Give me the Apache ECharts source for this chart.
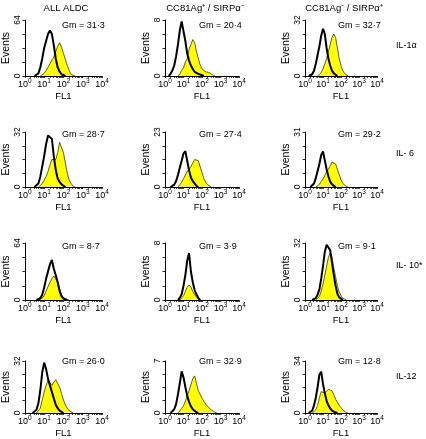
<!DOCTYPE html>
<html><head><meta charset="utf-8">
<script src="https://cdn.jsdelivr.net/npm/echarts@6/dist/echarts.min.js"></script>
<style>html,body{margin:0;padding:0;background:#fff}#c{width:426px;height:439px}</style>
</head><body><div id="c"></div>
<script>
// ---- data ----
const columnTitles = ['ALL ALDC', 'CC81Ag\u207A / SIRP\u03B1\u207B', 'CC81Ag\u207B / SIRP\u03B1\u207A'];
const rowLabels = ['IL-1\u03B1', 'IL- 6', 'IL- 10*', 'IL-12'];
const xTickBase = '10';
const xTickExponents = ['0', '1', '2', '3', '4'];
const yMaxima = [[64, 8, 32], [32, 23, 31], [64, 8, 32], [32, 7, 34]];
const gmLabels = [
  ['Gm = 31\u00B73', 'Gm = 20\u00B74', 'Gm = 32\u00B77'],
  ['Gm = 28\u00B77', 'Gm = 27\u00B74', 'Gm = 29\u00B72'],
  ['Gm = 8\u00B77', 'Gm = 3\u00B79', 'Gm = 9\u00B71'],
  ['Gm = 26\u00B70', 'Gm = 32\u00B79', 'Gm = 12\u00B78']
];
// FL1 bins in log10 units (decades)
const fl1LogBins = [0,0.1,0.2,0.3,0.4,0.5,0.6,0.7,0.8,0.9,1.0,1.1,1.2,1.3,1.4,1.5,1.6,1.7,1.8,1.9,2.0,2.1,2.2,2.3,2.4,2.5,2.6,2.7,2.8,2.9,3.0];

// control (black outline) and stained (yellow) histograms
const il1_all_ctrl  = [0,0,0,0,0,0,1,3,10,20,32,40,48,52,48,35,20,10,5,2,0.5,0,0,0,0,0,0,0,0,0,0];
const il1_all_stain = [0,0,0,0,0,0,0,0,0,1,3,6,10,14,18,22,28,34,38,33,26,19,12,6,2,1,0,0,0,0,0];
const il1_pos_ctrl  = [0,0,0,0.3,0.8,1.5,2.8,4.5,6.5,7.8,7.6,5.0,3.2,2.2,1.5,1.0,0.6,0.4,0.3,0.2,0.1,0,0,0,0,0,0,0,0,0,0];
const il1_pos_stain = [0,0,0,0,0,0,0,0,0.3,0.8,1.2,2.0,2.5,3.8,4.5,5.2,4.8,3.5,2.5,1.6,1.0,1.2,0.6,0.8,0.5,0.3,0.1,0,0,0,0];
const il1_neg_ctrl  = [0,0,0,0.5,1,3,7,12,17,23,27,24,16,10,6,3,1.5,0.5,0,0,0,0,0,0,0,0,0,0,0,0,0];
const il1_neg_stain = [0,0,0,0,0,0,0,0,0.5,2,4,7,10,14,18,22,24,22,16,10,6,3,1.5,0.5,0,0,0,0,0,0,0];

const il6_all_ctrl  = [0,0,0,0,0,0,0.5,2,6,12,18,25,30,31,28,18,10,5,3,1.5,0.5,0,0,0,0,0,0,0,0,0,0];
const il6_all_stain = [0,0,0,0,0,0,0,0,0.5,2,4,6,9,13,16,17,16,20,26,27,20,14,8,4,2,0.5,0,0,0,0,0];
const il6_pos_ctrl  = [0,0,0,0,0.5,1,2.5,5,8,11,14,15,11,7,4,2.5,1.5,0.5,0,0,0,0,0,0,0,0,0,0,0,0,0];
const il6_pos_stain = [0,0,0,0,0,0,0,0,0.5,2,3.5,5,6.5,7.5,8.5,10,11.5,12,11,8.5,6,3.5,2,1,0.3,0,0,0,0,0,0];
const il6_neg_ctrl  = [0,0,0,0,0.5,2,5,9,13,18,20,15,10,6,3,1.5,0.5,0,0,0,0,0,0,0,0,0,0,0,0,0,0];
const il6_neg_stain = [0,0,0,0,0,0,0,0.5,1.5,3,4.5,6.5,8.5,10,12,14,15,13,10,7,4,2,1,0.3,0,0,0,0,0,0,0];

const il10_all_ctrl  = [0,0,0,0,0,0,0,0.5,2,6,14,24,32,40,45,35,28,20,10,4,1.5,0.5,0,0,0,0,0,0,0,0,0];
const il10_all_stain = [0,0,0,0,0,0,0,0,0.5,2,5,10,15,20,24,27,26,20,13,6,3,1,0.3,0,0,0,0,0,0,0,0];
const il10_pos_ctrl  = [0,0,0,0,0,0,0,0,0.3,0.8,2,3.5,5.5,6.6,4,2.5,1.4,0.8,0.3,0,0,0,0,0,0,0,0,0,0,0,0];
const il10_pos_stain = [0,0,0,0,0,0,0,0,0,0.2,0.6,1.2,1.8,2.1,1.8,1.2,0.8,0.4,0.1,0,0,0,0,0,0,0,0,0,0,0,0];
const il10_neg_ctrl  = [0,0,0,0,0,0.3,1,3,6,12,19,27,31,32,28,21,14,8,3.5,1.5,0.5,0,0,0,0,0,0,0,0,0,0];
const il10_neg_stain = [0,0,0,0,0,0,0,0.5,2,5,9,14,19,24,26.5,24,18,13,8,4.5,2.5,1,0.3,0,0,0,0,0,0,0,0];

const il12_all_ctrl  = [0,0,0,0,0,0.5,2,6,14,25,31,27,21,17,13,9,5,3,1.5,0.5,0,0,0,0,0,0,0,0,0,0,0];
const il12_all_stain = [0,0,0,0,0,0,0,0.5,3,8,13,17,20,19,17,19,20.5,20,16,12,8,5,3,1.5,0.5,0,0,0,0,0,0];
const il12_pos_ctrl  = [0,0,0,0,0.2,0.5,1.2,2.5,4,5.6,4.8,3.5,2.3,1.5,0.9,0.5,0.3,0.1,0,0,0,0,0,0,0,0,0,0,0,0,0];
const il12_pos_stain = [0,0,0,0,0,0,0,0,0.2,0.6,1.0,1.6,2.3,3.0,3.8,4.6,5.0,4.0,3.0,2.5,2.0,1.6,1.2,0.9,0.7,0.4,0.2,0.1,0,0,0];
const il12_neg_ctrl  = [0,0,0,0.3,1.5,5,10,17,25,27,19,13,8,5,3,1.5,0.7,0.3,0,0,0,0,0,0,0,0,0,0,0,0,0];
const il12_neg_stain = [0,0,0,0,0,0.5,2,5,10,14,15,13,13.5,15.5,16,14.5,12,9,7,5,3.5,2,1,0.3,0,0,0,0,0,0,0];

const panelData = [
  [[il1_all_ctrl, il1_all_stain], [il1_pos_ctrl, il1_pos_stain], [il1_neg_ctrl, il1_neg_stain]],
  [[il6_all_ctrl, il6_all_stain], [il6_pos_ctrl, il6_pos_stain], [il6_neg_ctrl, il6_neg_stain]],
  [[il10_all_ctrl, il10_all_stain], [il10_pos_ctrl, il10_pos_stain], [il10_neg_ctrl, il10_neg_stain]],
  [[il12_all_ctrl, il12_all_stain], [il12_pos_ctrl, il12_pos_stain], [il12_neg_ctrl, il12_neg_stain]]
];

// ---- layout ----
const FONT = '"Liberation Sans", Arial, Helvetica, sans-serif';
const colLeft = [23, 165, 305], colWidth = [79, 74, 72];
const rowTop = [20, 132, 243, 361], rowHeight = [56, 55, 57, 54];
const gmX = [62, 199, 338];
const gmY = [26, 135, 247, 362];
const titleX = [66, 205, 344];
const rowLabelY = [46, 154, 266, 377];

const minorTicks = [];
for (let d = 0; d < 4; d++) for (let m = 1; m < 10; m++) minorTicks.push(d + Math.log10(m));
minorTicks.push(4);

function trimmed(arr) {
  let a = arr.findIndex(v => v > 0), b = arr.length - 1;
  while (b > 0 && arr[b] === 0) b--;
  a = Math.max(0, a - 1); b = Math.min(arr.length - 1, b + 1);
  const out = [];
  for (let i = a; i <= b; i++) out.push([fl1LogBins[i], arr[i]]);
  return out;
}

const grid = [], xAxis = [], yAxis = [], series = [], graphic = [];
let k = 0;
for (let r = 0; r < 4; r++) {
  for (let c = 0; c < 3; c++) {
    const yMax = yMaxima[r][c];
    grid.push({left: colLeft[c], top: rowTop[r], width: colWidth[c], height: rowHeight[r]});
    xAxis.push({
      gridIndex: k, type: 'value', min: 0, max: 4, interval: 1,
      axisLine: {show: true, lineStyle: {color: '#000', width: 1}},
      axisTick: {show: true, length: 2, customValues: minorTicks, lineStyle: {color: '#000', width: 0.7}},
      axisLabel: {margin: 2, color: '#000', fontFamily: FONT,
        formatter: v => '{b|' + xTickBase + '}{s|' + xTickExponents[Math.round(v)] + '}',
        rich: {
          b: {fontSize: 9, fontFamily: FONT, color: '#000'},
          s: {fontSize: 6.5, fontFamily: FONT, color: '#000', padding: [0, 0, 6, 0]}
        }},
      splitLine: {show: false},
      name: 'FL1', nameLocation: 'middle', nameGap: 15,
      nameTextStyle: {fontSize: 9.5, color: '#000', fontFamily: FONT}
    });
    yAxis.push({
      gridIndex: k, type: 'value', min: 0, max: yMax, interval: yMax / 4,
      axisLine: {show: true, lineStyle: {color: '#000', width: 1}},
      axisTick: {show: true, length: 2.5, lineStyle: {color: '#000', width: 0.8}},
      axisLabel: {rotate: 90, fontSize: 8.5, margin: 3, color: '#000', fontFamily: FONT,
        formatter: v => (Math.abs(v) < 1e-6 ? '0' : (Math.abs(v - yMax) < 1e-6 ? String(yMax) : ''))},
      splitLine: {show: false},
      name: 'Events', nameLocation: 'middle', nameGap: 12, nameRotate: 90,
      nameTextStyle: {fontSize: 10.5, color: '#000', fontFamily: FONT}
    });
    const [ctrl, stain] = panelData[r][c];
    series.push({
      type: 'line', xAxisIndex: k, yAxisIndex: k, data: trimmed(stain),
      symbol: 'none', smooth: false, silent: true,
      lineStyle: {color: '#333', width: 0.8},
      areaStyle: {color: '#ffff00', opacity: 1}
    });
    series.push({
      type: 'line', xAxisIndex: k, yAxisIndex: k, data: trimmed(ctrl),
      symbol: 'none', smooth: false, silent: true,
      lineStyle: {color: '#000', width: 2}
    });
    graphic.push({type: 'text', x: gmX[c], y: gmY[r],
      style: {text: gmLabels[r][c], fontSize: 9, fontFamily: FONT, fill: '#000', align: 'left', verticalAlign: 'middle'}});
    k++;
  }
}
for (let c = 0; c < 3; c++) {
  graphic.push({type: 'text', x: titleX[c], y: 8,
    style: {text: columnTitles[c], fontSize: 9.5, fontFamily: FONT, fill: '#000', align: 'center', verticalAlign: 'middle'}});
}
for (let r = 0; r < 4; r++) {
  graphic.push({type: 'text', x: 396, y: rowLabelY[r],
    style: {text: rowLabels[r], fontSize: 9, fontFamily: FONT, fill: '#000', align: 'left', verticalAlign: 'middle'}});
}

const chart = echarts.init(document.getElementById('c'), null, {renderer: 'canvas'});
chart.setOption({
  animation: false,
  backgroundColor: '#fff',
  textStyle: {fontFamily: FONT},
  grid, xAxis, yAxis, series, graphic
});
</script></body></html>
